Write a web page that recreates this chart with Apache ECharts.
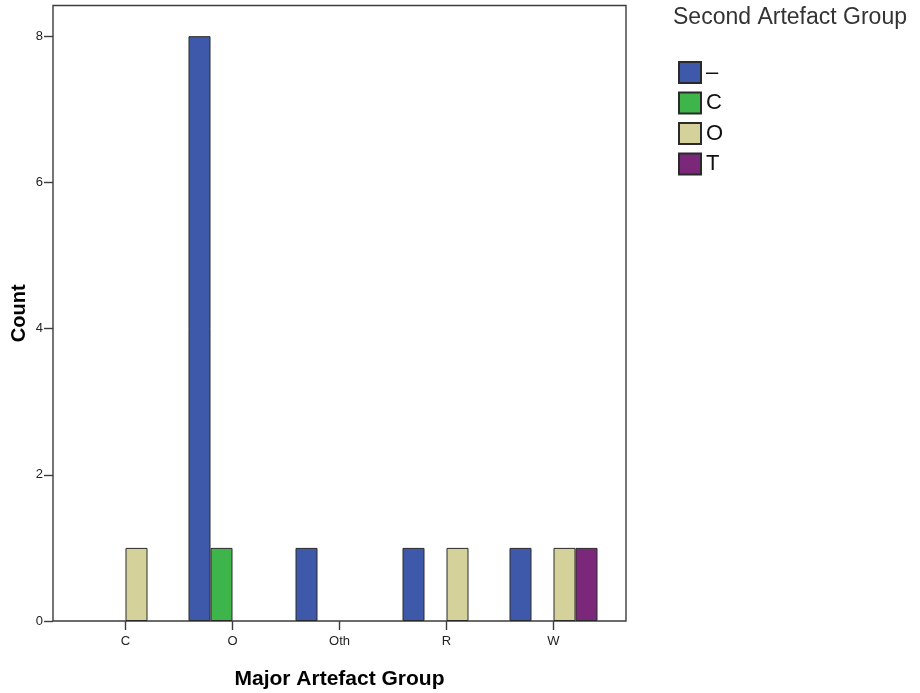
<!DOCTYPE html>
<html lang="en">
<head>
    <meta charset="UTF-8">
    <title>index</title>
    <script src="https://cdn.jsdelivr.net/npm/echarts@6.0.0/dist/echarts.min.js"></script>
    <style>
        html, body { margin: 0; padding: 0; background: #fff; }
    </style>
</head>
<body>
<div id="main" style="width: 920px;height:693px;"></div>

<script type="text/javascript">
    // major groups on the x axis
    var groups = ['C', 'O', 'Oth', 'R', 'W'];
    // second artefact group counts (null = no bar)
    var dashVals = [null, 8, 1, 1, 1];
    var cVals = [null, 1, null, null, null];
    var oVals = [1, null, null, 1, 1];
    var tVals = [null, null, null, null, 1];
    var yTicks = [0, 2, 4, 6, 8];

    var font = 'Liberation Sans, Arial, sans-serif';
    var myChart = echarts.init(document.getElementById('main'));

    function bar(name, data, color) {
        return {
            name: name,
            type: 'bar',
            xAxisIndex: 1,
            yAxisIndex: 1,
            barWidth: 22,
            barGap: '0%',
            data: data,
            itemStyle: { color: color, borderColor: '#2a2a2a', borderWidth: 1 }
        };
    }

    var option = {
        animation: false,
        backgroundColor: '#fff',
        title: {
            text: 'Second Artefact Group',
            left: 673,
            top: 6,
            padding: 0,
            textStyle: { fontFamily: font, fontSize: 23, fontWeight: 'normal', color: '#333' }
        },
        legend: {
            orient: 'vertical',
            left: 678,
            top: 61,
            padding: 0,
            itemWidth: 22,
            itemHeight: 21,
            itemGap: 7.5,
            icon: 'rect',
            data: ['–', 'C', 'O', 'T'],
            textStyle: { fontFamily: font, fontSize: 22, lineHeight: 21, color: '#111' }
        },
        grid: [
            // frame + y axis
            { left: 53, right: 294, top: 5.5, bottom: 72, outerBoundsMode: 'none', show: true, borderColor: '#3c3c3c', borderWidth: 1.4, backgroundColor: 'transparent' },
            // bars
            { left: 72, right: 313, top: 5.5, bottom: 72, outerBoundsMode: 'none' }
        ],
        xAxis: [
            { type: 'value', gridIndex: 0, show: false, min: 0, max: 1 },
            {
                type: 'category',
                gridIndex: 1,
                data: groups,
                name: 'Major Artefact Group',
                nameLocation: 'middle',
                nameGap: 48,
                nameMoveOverlap: false,
                nameTextStyle: { fontFamily: font, fontSize: 21, fontWeight: 'bold', color: '#000' },
                axisLine: { show: false },
                axisTick: { show: true, alignWithLabel: true, length: 9, lineStyle: { color: '#3c3c3c', width: 1.4 } },
                axisLabel: { fontFamily: font, fontSize: 13, color: '#222', margin: 14 }
            }
        ],
        yAxis: [
            {
                type: 'value',
                gridIndex: 0,
                min: 0,
                max: 8.42,
                interval: 2,
                name: 'Count',
                nameLocation: 'middle',
                nameGap: 24,
                nameRotate: 90,
                nameMoveOverlap: false,
                nameTextStyle: { fontFamily: font, fontSize: 20, fontWeight: 'bold', color: '#000' },
                axisLine: { show: false },
                axisTick: { show: true, inside: false, length: 9, customValues: yTicks, lineStyle: { color: '#3c3c3c', width: 1.4 } },
                axisLabel: { fontFamily: font, fontSize: 13, color: '#222', margin: 10, customValues: yTicks },
                splitLine: { show: false }
            },
            { type: 'value', gridIndex: 1, min: 0, max: 8.42, show: false, splitLine: { show: false } }
        ],
        series: [
            bar('–', dashVals, '#3e58aa'),
            bar('C', cVals, '#3db54a'),
            bar('O', oVals, '#d5d19b'),
            bar('T', tVals, '#7b287b')
        ]
    };

    myChart.setOption(option);
</script>
</body>
</html>
